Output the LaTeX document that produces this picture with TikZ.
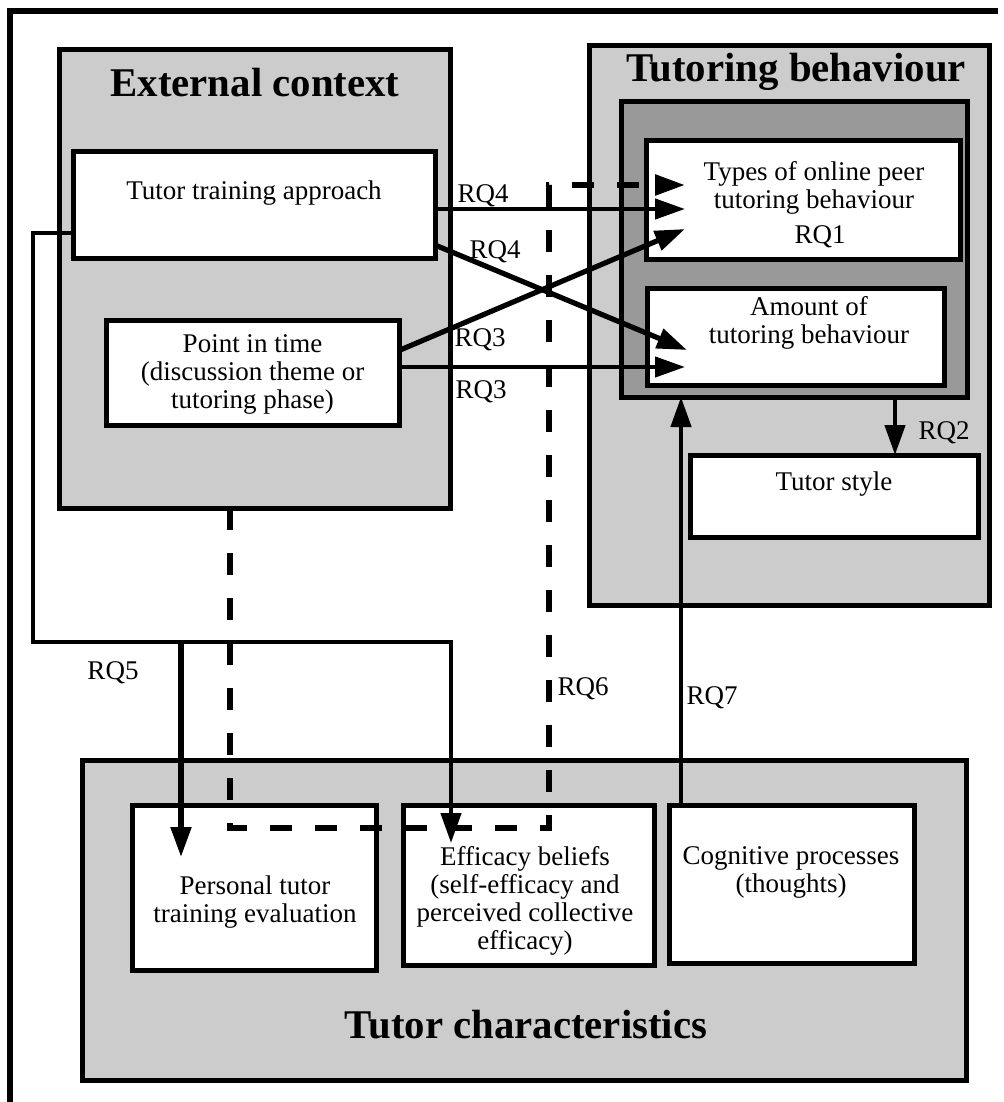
\documentclass[tikz,border=0pt]{standalone}
\usepackage{fontspec}
\setmainfont{Liberation Serif}
\usetikzlibrary{arrows.meta,calc}
\definecolor{grayL}{HTML}{CCCCCC}
\definecolor{grayD}{HTML}{999999}
\tikzset{
  grp/.style={draw, fill=grayL, line width=2.5pt, inner sep=0pt, outer sep=0pt},
  darkgrp/.style={draw, fill=grayD, line width=2.5pt, inner sep=0pt, outer sep=0pt},
  wbox/.style={draw, fill=white, line width=2.5pt, inner sep=0pt, outer sep=0pt},
  txt/.style={inner sep=0pt, align=center, font=\fontsize{13.5}{14}\selectfont},
  ttl/.style={inner sep=0pt, font=\fontsize{20.4}{22}\selectfont\bfseries},
  lbl/.style={inner sep=0pt, font=\fontsize{13.5}{14}\selectfont},
  conn/.style={line width=2.2pt},
  arr/.style={conn, -{Triangle[length=15pt,width=10pt]}},
  dashline/.style={line width=2.8pt, dash pattern=on 11pt off 11.5pt, -{Triangle[length=15pt,width=10pt]}}
}
\begin{document}
\begin{tikzpicture}[x=0.5pt,y=-0.5pt]
\useasboundingbox (0,0) rectangle (1003,1102);
% outer frame (left and top only visible)
\draw[line width=2.6pt] (10,1102) -- (10,11) -- (998,11);

% group boxes
\node[grp, minimum width=195.5pt, minimum height=229pt] (ext) at (254.5,279) {};
\node[grp, minimum width=200pt, minimum height=279.5pt] (tb) at (789,325.5) {};
\node[darkgrp, minimum width=173pt, minimum height=147.5pt] (dark) at (794,249.5) {};
\node[grp, minimum width=442pt, minimum height=160pt] (tc) at (524,920) {};

% titles
\node[ttl, anchor=base] (extT) at (255,97) {External context};
\node[ttl, anchor=base] (tbT) at (796,82) {Tutoring behaviour};
\node[ttl, anchor=base] (tcT) at (526,1038) {Tutor characteristics};

% white boxes
\node[wbox, minimum width=181pt, minimum height=53.5pt] (tta) at (254,204.5) {};
\node[wbox, minimum width=146.5pt, minimum height=52.5pt] (pit) at (252.5,372.5) {};
\node[wbox, minimum width=157pt, minimum height=59.5pt] (types) at (803,199.5) {};
\node[wbox, minimum width=148.5pt, minimum height=48.5pt] (amount) at (795.5,336.5) {};
\node[wbox, minimum width=144pt, minimum height=41pt] (style) at (834,496) {};
\node[wbox, minimum width=122pt, minimum height=82.5pt] (pers) at (254,887.5) {};
\node[wbox, minimum width=125.5pt, minimum height=80pt] (eff) at (528.5,885) {};
\node[wbox, minimum width=122.5pt, minimum height=79pt] (cog) at (791.5,884) {};

% box texts
\node[lbl, anchor=base] (ttaT) at (254,199) {Tutor training approach};
\node[txt] (pitT) at (252.5,374) {Point in time\\(discussion theme or\\tutoring phase)};
\node[txt] (typesT) at (814,188) {Types of online peer\\ tutoring behaviour};
\node[lbl] (rq1) at (820,237) {RQ1};
\node[txt] (amountT) at (809,323) {Amount of\\tutoring behaviour};
\node[lbl, anchor=base] (styleT) at (834,490) {Tutor style};
\node[txt] (persT) at (255,902) {Personal tutor\\training evaluation};
\node[txt] (effT) at (525,901) {Efficacy beliefs\\(self-efficacy and\\perceived collective\\efficacy)};
\node[txt] (cogT) at (791,872) {Cognitive processes\\(thoughts)};

% arrow target points
\coordinate (t0) at (685,185);
\coordinate (t1) at (685,209);
\coordinate (t2) at (685,229);
\coordinate (t3) at (687,350);
\coordinate (t4) at (685,367);

% dashed connector (RQ6)
\coordinate (dstart) at ($(ext.south)+(-24.5,0)$);
\coordinate (dcorner) at (549,828);
\draw[dashline] (dstart) |- (dcorner) |- (t0);

% RQ4 / RQ3 connectors
\draw[arr] (tta.east |- t1) -- (t1);
\draw[arr, line width=2.6pt] ($(tta.south east)+(0,-13)$) -- (t3);
\draw[arr, line width=2.6pt] ($(pit.east)+(0,-22)$) -- (t2);
\draw[arr] (pit.east |- t4) -- (t4);

% RQ5 connectors
\coordinate (r5s) at ($(tta.south west)+(0,-25)$);
\coordinate (r5a) at (33,642);
\coordinate (tipE) at (451,843);
\coordinate (tipP) at (181,857);
\draw[arr] (r5s) -| (r5a) -| (tipE);
\draw[arr, line width=2.6pt] (tipP |- r5a) -- (tipP);

% RQ7
\coordinate (r7s) at ($(cog.north west)+(12,0)$);
\draw[arr] (r7s) -- (r7s |- dark.south);

% RQ2
\coordinate (r2s) at ($(dark.south east)+(-72,0)$);
\draw[arr] (r2s) -- (r2s |- style.north);

% labels
\node[lbl] (rq4a) at (483,196) {RQ4};
\node[lbl] (rq4b) at (495,252) {RQ4};
\node[lbl] (rq3a) at (480,340) {RQ3};
\node[lbl] (rq3b) at (481,392) {RQ3};
\node[lbl] (rq2) at (944,433) {RQ2};
\node[lbl] (rq5) at (113,673) {RQ5};
\node[lbl] (rq6) at (583,689) {RQ6};
\node[lbl] (rq7) at (712,698) {RQ7};
\end{tikzpicture}
\end{document}
